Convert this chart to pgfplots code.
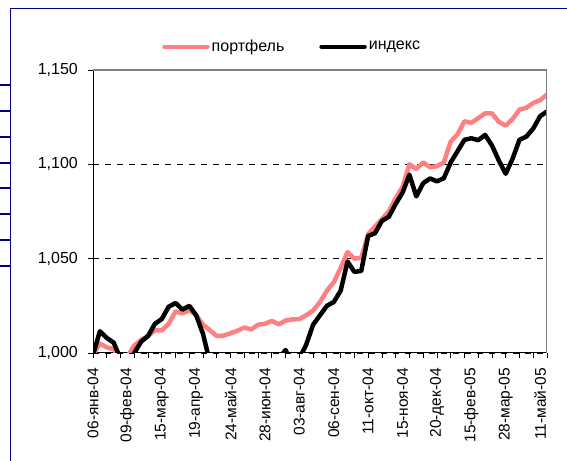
\documentclass[border=0pt]{standalone}
\usepackage{fontspec}
\setmainfont{Liberation Sans}
\usepackage{pgfplots}
\pgfplotsset{compat=1.18}
\usepackage{pgfplotstable}
\definecolor{navyb}{RGB}{0,0,128}
\definecolor{pinkl}{RGB}{255,128,128}
\definecolor{grayb}{RGB}{128,128,128}

\pgfplotstableread{
x P B
0 0.999 0.999
1 1.005 1.0115
2 1.003 1.008
3 1.002 1.0055
4 0.997 0.997
5 0.998 0.994
6 1.004 1.000
7 1.007 1.006
8 1.009 1.009
9 1.012 1.0155
10 1.012 1.018
11 1.0155 1.0245
12 1.022 1.0265
13 1.021 1.023
14 1.0228 1.025
15 1.020 1.020
16 1.015 1.010
17 1.012 0.995
18 1.009 0.990
19 1.0092 0.985
20 1.0105 0.983
21 1.0118 0.982
22 1.0135 0.983
23 1.0125 0.985
24 1.015 0.987
25 1.0155 0.990
26 1.017 0.994
27 1.0152 0.997
28 1.0172 1.0016
29 1.0178 0.993
30 1.018 0.997
31 1.020 1.0045
32 1.0225 1.015
33 1.027 1.020
34 1.033 1.025
35 1.0375 1.027
36 1.045 1.033
37 1.0535 1.0485
38 1.050 1.043
39 1.0505 1.0435
40 1.063 1.062
41 1.067 1.0635
42 1.071 1.070
43 1.075 1.0722
44 1.082 1.079
45 1.088 1.085
46 1.100 1.0945
47 1.0975 1.083
48 1.101 1.090
49 1.0985 1.0925
50 1.099 1.091
51 1.101 1.0926
52 1.112 1.101
53 1.116 1.107
54 1.1228 1.113
55 1.122 1.1138
56 1.1245 1.1128
57 1.127 1.1156
58 1.127 1.110
59 1.1225 1.102
60 1.1205 1.095
61 1.124 1.103
62 1.129 1.113
63 1.130 1.1147
64 1.1325 1.119
65 1.134 1.1255
66 1.137 1.128
}\datatable

\begin{document}
\fontsize{16bp}{19bp}\selectfont
\begin{tikzpicture}
\useasboundingbox (0,0) rectangle (567bp,461bp);
% outer frame (navy)
\draw[navyb, line width=1.8bp] (10.5bp,0bp) -- (10.5bp,452.5bp) -- (567bp,452.5bp);
\foreach \yy in {85,110.7,136.7,162.7,188.3,214,240,265.7} {
  \draw[navyb, line width=1.8bp] (0bp,461bp-\yy bp) -- (10.5bp,461bp-\yy bp);
}
\begin{axis}[
  at={(93bp,108bp)}, anchor=south west,
  scale only axis, width=454bp, height=283bp,
  xmin=0, xmax=66, ymin=1, ymax=1.15,
  axis x line*=bottom, axis y line*=left,
  axis line style={black, line width=1bp},
  tick align=outside,
  xtick={0,5,...,65},
  xticklabels={06-янв-04,09-фев-04,15-мар-04,19-апр-04,24-май-04,28-июн-04,03-авг-04,06-сен-04,11-окт-04,15-ноя-04,20-дек-04,15-фев-05,28-мар-05,11-май-05},
  major x tick style={draw=none},
  minor xtick={0,2,...,66},
  minor x tick style={black, line width=0.8bp},
  minor tick length=5bp,
  major tick length=5bp,
  ytick={1,1.05,1.1,1.15},
  yticklabels={{1,000},{1,050},{1,100},{1,150}},
  y tick style={black, line width=0.8bp},
  ymajorgrids,
  grid style={black, line width=0.7bp, dash pattern=on 6bp off 6bp},
  xticklabel style={rotate=90, anchor=east, inner sep=0pt, font=\fontsize{15.5bp}{18bp}\selectfont},
  xticklabel shift=10bp,
  yticklabel style={anchor=east, inner sep=0pt, font=\fontsize{16bp}{19bp}\selectfont},
  yticklabel shift=10bp,
  legend style={at={(0.152,1.082)}, anchor=west, draw=none, fill=none,
    inner sep=0pt, legend columns=2, font=\fontsize{16bp}{19bp}\selectfont,
    /tikz/every even column/.append style={column sep=33bp}},
  legend image code/.code={\draw[#1, line cap=round] (0bp,0bp) -- (43bp,0bp);},
]
\addplot[pinkl, line width=4.5bp, line join=round] table[x=x, y=P] {\datatable};
\addlegendentry{портфель}
\addplot[black, line width=4.5bp, line join=round] table[x=x, y=B] {\datatable};
\addlegendentry{индекс}
\draw[grayb, line width=1.5bp] (rel axis cs:0,1) -- (rel axis cs:1,1) -- (rel axis cs:1,0);
\end{axis}
\end{tikzpicture}
\end{document}
